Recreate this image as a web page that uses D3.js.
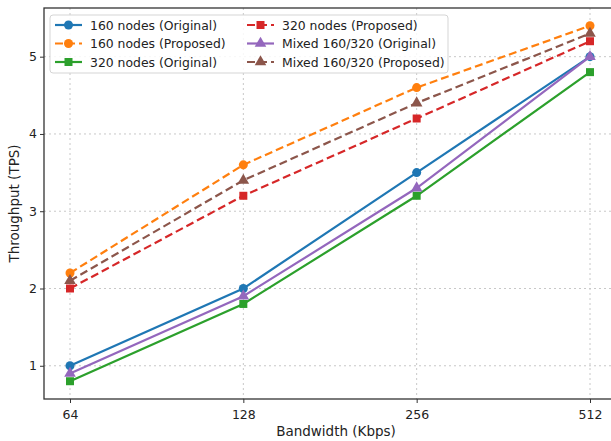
<!DOCTYPE html>
<html>
<head>
<meta charset="utf-8">
<script src="https://cdn.jsdelivr.net/npm/d3@7"></script>
<style>
  body { margin: 0; background: #fff; }
  svg { display: block; font-family: 'DejaVu Sans', sans-serif; }
  .grid line { stroke: #c8c8c8; stroke-dasharray: 2,3; stroke-width: 1; }
</style>
</head>
<body>
<svg id="chart" width="611" height="441"></svg>
<script>
const bandwidth = [64, 128, 256, 512];
const yTicks = [1, 2, 3, 4, 5];
const seriesNames = [
  '160 nodes (Original)', '160 nodes (Proposed)', '320 nodes (Original)',
  '320 nodes (Proposed)', 'Mixed 160/320 (Original)', 'Mixed 160/320 (Proposed)'
];
const orig160 = [1.0, 2.0, 3.5, 5.0];
const prop160 = [2.2, 3.6, 4.6, 5.4];
const orig320 = [0.8, 1.8, 3.2, 4.8];
const prop320 = [2.0, 3.2, 4.2, 5.2];
const origMixed = [0.9, 1.9, 3.3, 5.0];
const propMixed = [2.1, 3.4, 4.4, 5.3];

const colors = ['#1f77b4', '#ff7f0e', '#2ca02c', '#d62728', '#9467bd', '#8c564b'];
const markers = ['circle', 'circle', 'square', 'square', 'triangle', 'triangle'];
const dashed = [false, true, false, true, false, true];
const values = [orig160, prop160, orig320, prop320, origMixed, propMixed];

// draw order matches the reference legend order
const series = seriesNames.map((name, i) => ({
  name: name, color: colors[i], marker: markers[i], dashed: dashed[i], values: values[i]
}));

const svg = d3.select('#chart');
const conf = { left: 44, top: 8, right: 616, bottom: 399 };

const x = d3.scaleLog().base(2)
  .domain([64 / Math.pow(2, 0.15), 512 * Math.pow(2, 0.15)])
  .range([conf.left, conf.right]);
const y = d3.scaleLinear()
  .domain([0.57, 5.63])
  .range([conf.bottom, conf.top]);

// grid
const grid = svg.append('g').classed('grid', true);
grid.selectAll('.gx').data(bandwidth).enter().append('line')
  .attr('x1', d => x(d)).attr('x2', d => x(d))
  .attr('y1', conf.top).attr('y2', conf.bottom);
grid.selectAll('.gy').data(yTicks).enter().append('line')
  .attr('x1', conf.left).attr('x2', conf.right)
  .attr('y1', d => y(d)).attr('y2', d => y(d));

// axes
const xAxis = svg.append('g')
  .attr('transform', 'translate(0,' + conf.bottom + ')')
  .call(d3.axisBottom(x).tickValues(bandwidth).tickFormat(d3.format('d')).tickSize(4).tickSizeOuter(0));
const yAxis = svg.append('g')
  .attr('transform', 'translate(' + conf.left + ',0)')
  .call(d3.axisLeft(y).tickValues(yTicks).tickFormat(d3.format('d')).tickSize(4).tickSizeOuter(0));
[xAxis, yAxis].forEach(a => {
  a.select('.domain').remove();
  a.selectAll('line').attr('stroke', '#333');
  a.selectAll('text').attr('font-size', 12.5).attr('fill', '#222')
    .attr('font-family', 'DejaVu Sans, sans-serif');
});
xAxis.selectAll('text').attr('dy', '1em');
yAxis.selectAll('text').attr('x', -7);

svg.append('text').text('Bandwidth (Kbps)')
  .attr('x', 336).attr('y', 436)
  .attr('text-anchor', 'middle').attr('font-size', 13.5).attr('fill', '#222');
svg.append('text').text('Throughput (TPS)')
  .attr('transform', 'translate(19,' + ((conf.top + conf.bottom) / 2) + ') rotate(-90)')
  .attr('text-anchor', 'middle').attr('font-size', 13.5).attr('fill', '#222');

// lines
const line = d3.line().x((d, i) => x(bandwidth[i])).y(d => y(d));
const symbolType = { circle: d3.symbolCircle, square: d3.symbolSquare, triangle: d3.symbolTriangle };
const symbolSize = { circle: 64, square: 64, triangle: 58 };

const plot = svg.append('g');
series.forEach(s => {
  plot.append('path').datum(s.values)
    .attr('d', line).attr('fill', 'none')
    .attr('stroke', s.color).attr('stroke-width', 2.2)
    .attr('stroke-dasharray', s.dashed ? '8,4' : null);
  plot.selectAll(null).data(s.values).enter().append('path')
    .attr('d', d3.symbol().type(symbolType[s.marker]).size(symbolSize[s.marker]))
    .attr('transform', (d, i) => 'translate(' + x(bandwidth[i]) + ',' + y(d) + ')')
    .attr('fill', s.color);
});

// frame
svg.append('rect')
  .attr('x', conf.left).attr('y', conf.top)
  .attr('width', conf.right - conf.left).attr('height', conf.bottom - conf.top)
  .attr('fill', 'none').attr('stroke', '#333').attr('stroke-width', 1.3);

// legend
const legend = svg.append('g');
legend.append('rect')
  .attr('x', 50).attr('y', 15).attr('width', 398).attr('height', 58).attr('rx', 3)
  .attr('fill', 'rgba(255,255,255,0.85)').attr('stroke', '#d5d5d5');
series.forEach((s, i) => {
  const col = Math.floor(i / 3), row = i % 3;
  const hx = col === 0 ? 55 : 247;
  const ly = 25 + row * 18.5;
  const g = legend.append('g');
  g.append('line').attr('x1', hx).attr('x2', hx + 27).attr('y1', ly).attr('y2', ly)
    .attr('stroke', s.color).attr('stroke-width', 2.2)
    .attr('stroke-dasharray', s.dashed ? '8,4' : null);
  g.append('path')
    .attr('d', d3.symbol().type(symbolType[s.marker]).size(symbolSize[s.marker]))
    .attr('transform', 'translate(' + (hx + 13.5) + ',' + ly + ')')
    .attr('fill', s.color);
  g.append('text').text(s.name)
    .attr('x', hx + 35).attr('y', ly).attr('dominant-baseline', 'central')
    .attr('font-size', 12.4).attr('fill', '#222');
});
</script>
</body>
</html>
